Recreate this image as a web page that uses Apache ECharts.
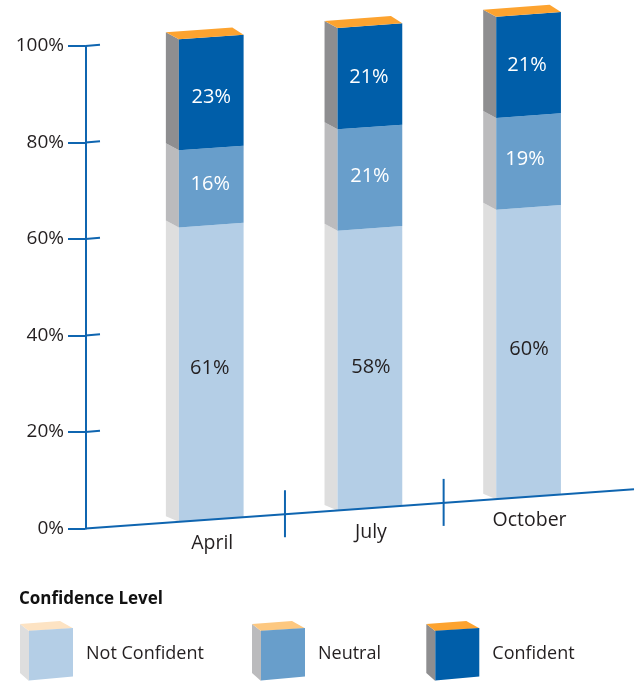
<!DOCTYPE html>
<html>
<head>
<meta charset="utf-8">
<title>Confidence Level</title>
<style>
  html, body { margin: 0; padding: 0; background: #fff; }
  #chart { width: 641px; height: 681px; }
</style>
<script src="https://cdn.jsdelivr.net/npm/echarts@6/dist/echarts.min.js"></script>
</head>
<body>
<div id="chart"></div>
<script>
const categories = ['April', 'July', 'October'];
const notConfident = [61, 58, 60];
const neutral = [16, 21, 19];
const confident = [23, 21, 21];
const seriesNames = ['Not Confident', 'Neutral', 'Confident'];
const yTicks = [0, 20, 40, 60, 80, 100];

// colours: front, side and top of each block
const frontColors = ['#b4cee6', '#689ecb', '#005ea9'];
const sideColors = ['#dedede', '#bbbbbd', '#8e8e90'];
const topColors = ['#fde3c3', '#fdc880', '#fda32f'];
const axisColor = '#0f65b0';
const textColor = '#231f20';
const fontFamily = '"Open Sans", "Noto Sans", sans-serif';

// the picture leans: floor rises to the right
const SLOPE = 0.0715;
const AXIS_GAP = 40.8; // y axis sits this far left of the first band
const GRID_LEFT = 126.3;
const BAR_RATIO = 0.408;
const BAR_SHIFT = 5.6; // bars stand right of the band centre
const DEPTH_X = 13;
const DEPTH_Y = 7;

// hand placed labels in the original, [dx, dy] by series then category
const labelNudge = [
  [[-1.5, -4.4], [1, -1.3], [0.5, -3]],
  [[-1, -2.6], [0, -1.7], [-3.5, -2.5]],
  [[0, 4.5], [-1, 0.6], [-1.5, 0]]
];

const originX = GRID_LEFT - AXIS_GAP;

// screen y of a value at screen x, on the leaning floor
function leanY(api, value, x) {
  return api.coord([0, value])[1] - (x - originX) * SLOPE;
}

function blockSeries(values, bases, s) {
  return {
    type: 'custom',
    name: seriesNames[s],
    itemStyle: { color: frontColors[s] },
    encode: { x: 0, y: 2 },
    data: values.map((v, i) => [i, bases[i], bases[i] + v]),
    z: 2,
    renderItem: function (params, api) {
      const i = api.value(0);
      const lo = api.value(1);
      const hi = api.value(2);
      const cx = api.coord([i, 0])[0] + BAR_SHIFT;
      const w = api.size([1, 0])[0] * BAR_RATIO;
      const xl = cx - w / 2;
      const xr = cx + w / 2;
      const y0l = leanY(api, lo, xl);
      const y1l = leanY(api, hi, xl);
      const y0r = leanY(api, lo, xr);
      const y1r = leanY(api, hi, xr);
      // bottom back corner of the side is cut off a bit by the floor
      const sideBottom = lo === 0 ? DEPTH_Y - 1.5 : DEPTH_Y;
      const children = [
        {
          type: 'polygon',
          shape: { points: [[xl, y0l], [xl, y1l], [xl - DEPTH_X, y1l - DEPTH_Y], [xl - DEPTH_X, y0l - sideBottom]] },
          style: { fill: sideColors[s] }
        },
        {
          type: 'polygon',
          shape: { points: [[xl, y0l], [xr, y0r], [xr, y1r], [xl, y1l]] },
          style: { fill: frontColors[s] }
        }
      ];
      if (s === 2) {
        children.push({
          type: 'polygon',
          shape: { points: [[xl, y1l], [xr, y1r], [xr - 11.3, y1r - 7.3], [xl - DEPTH_X, y1l - DEPTH_Y]] },
          style: { fill: topColors[s] }
        });
      }
      const nudge = labelNudge[s][i];
      children.push({
        type: 'text',
        style: {
          x: cx + nudge[0],
          y: leanY(api, (lo + hi) / 2, cx) + nudge[1],
          text: (hi - lo) + '%',
          fill: s === 0 ? textColor : '#ffffff',
          font: '20px ' + fontFamily,
          align: 'center',
          verticalAlign: 'middle'
        }
      });
      return { type: 'group', children: children };
    }
  };
}

const base1 = notConfident;
const base2 = notConfident.map((v, i) => v + neutral[i]);

// leaning floor line, the band separators and month names
const floorSeries = {
  type: 'custom',
  name: 'floor',
  silent: true,
  z: 3,
  data: [[0]],
  encode: { x: 0 },
  renderItem: function (params, api) {
    const line = { stroke: axisColor, lineWidth: 2, fill: null };
    const band = api.size([1, 0])[0];
    const children = [{
      type: 'line',
      shape: { x1: originX, y1: leanY(api, 0, originX), x2: 634, y2: leanY(api, 0, 634) },
      style: line
    }];
    categories.forEach((name, i) => {
      const cx = api.coord([i, 0])[0];
      const labelX = cx + BAR_SHIFT + 1;
      children.push({
        type: 'text',
        style: {
          x: labelX,
          y: leanY(api, 0, labelX) + 24,
          text: name,
          fill: textColor,
          font: '19.5px ' + fontFamily,
          align: 'center',
          verticalAlign: 'middle'
        }
      });
      if (i > 0) {
        const sx = cx - band / 2;
        const sy = leanY(api, 0, sx);
        children.push({
          type: 'line',
          shape: { x1: sx, y1: sy - 24, x2: sx, y2: sy + 23 },
          style: line
        });
      }
    });
    return { type: 'group', children: children };
  }
};

// short right part of the y ticks, leaning with the floor
const tickStubSeries = {
  type: 'custom',
  name: 'tickStubs',
  silent: true,
  z: 3,
  data: yTicks.slice(1).map(t => [0, t]),
  encode: { y: 1 },
  renderItem: function (params, api) {
    const y = api.coord([0, api.value(1)])[1];
    return {
      type: 'line',
      shape: { x1: originX, y1: y, x2: originX + 14.5, y2: y - 1.3 },
      style: { stroke: axisColor, lineWidth: 2, fill: null }
    };
  }
};

// side and top of the legend blocks, the front comes from the legend icon
function legendCube(x, s) {
  const xl = x;
  const xr = x + 44;
  return [
    {
      type: 'polygon',
      shape: { points: [[xl, 631], [xl - 9, 624], [xl - 9, 673], [xl, 681]] },
      style: { fill: sideColors[s] }
    },
    {
      type: 'polygon',
      shape: { points: [[xl, 631], [xr, 628.3], [xr - 13, 621], [xl - 9, 624]] },
      style: { fill: topColors[s] }
    }
  ];
}

const legendLefts = [29, 261, 435.3];

const option = {
  animation: false,
  backgroundColor: '#ffffff',
  title: {
    text: 'Confidence Level',
    left: 19,
    top: 591,
    padding: 0,
    textStyle: { color: '#111111', fontFamily: fontFamily, fontWeight: 'bold', fontSize: 17 }
  },
  legend: seriesNames.map((name, s) => ({
    data: [name],
    left: legendLefts[s],
    top: 628,
    padding: 0,
    itemWidth: 44,
    itemHeight: 53,
    icon: 'path://M0,2.7L44,0L44,48.4L0,52.4Z',
    selectedMode: false,
    textStyle: { color: textColor, fontFamily: fontFamily, fontSize: 18, padding: [0, 0, 6, 8] }
  })),
  grid: { left: GRID_LEFT, top: 46, width: 476, height: 482.5, containLabel: false },
  xAxis: {
    type: 'category',
    data: categories,
    show: false
  },
  yAxis: {
    type: 'value',
    min: 0,
    max: 100,
    interval: 20,
    offset: AXIS_GAP,
    axisLine: { show: true, lineStyle: { color: axisColor, width: 2 } },
    axisTick: { show: true, length: 17.5, lineStyle: { color: axisColor, width: 2 } },
    axisLabel: { formatter: '{value}%', color: textColor, fontFamily: fontFamily, fontSize: 19, margin: 21.5 },
    splitLine: { show: false }
  },
  graphic: legendLefts.flatMap((x, s) => legendCube(x, s)),
  series: [
    blockSeries(notConfident, [0, 0, 0], 0),
    blockSeries(neutral, base1, 1),
    blockSeries(confident, base2, 2),
    floorSeries,
    tickStubSeries
  ]
};

const chart = echarts.init(document.getElementById('chart'));
chart.setOption(option);
</script>
</body>
</html>
